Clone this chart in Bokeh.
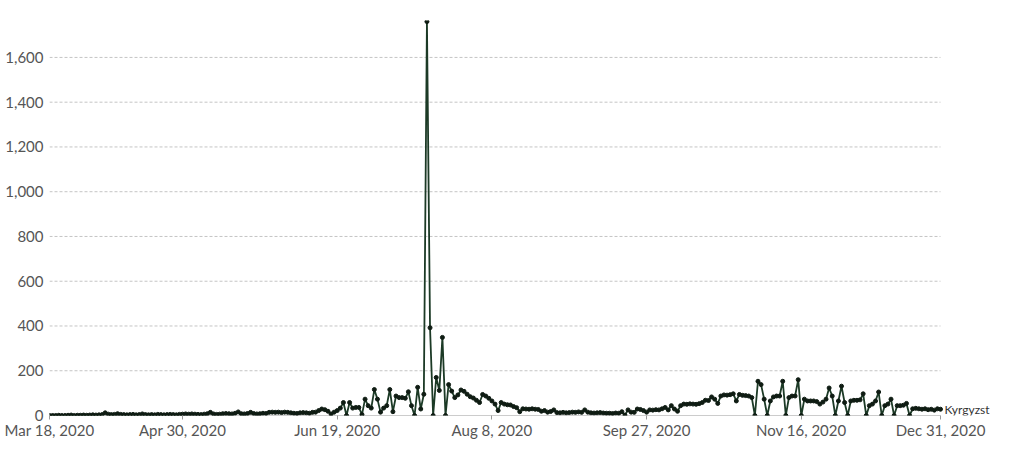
import pandas as pd
from bokeh.plotting import figure
from bokeh.models import ColumnDataSource, FixedTicker, NumeralTickFormatter, DatetimeTickFormatter, Label
from bokeh.embed import file_html
from bokeh.resources import INLINE

# ---- data (daily values) ----
start_date = "2020-03-18"
country_label = "Kyrgyzst"   # the series label as visible in the reference

mar_values = [0, 0, 0, 1, 0, 0, 1, 2, 0, 1, 1, 2, 1, 2]
apr_values = [3, 2, 3, 4, 12, 6, 4, 5, 8, 5, 4, 3, 4, 5, 3, 4, 7, 4, 3, 4,
              3, 5, 4, 3, 4, 5, 4, 3, 5, 6]
may_values = [7, 6, 7, 6, 5, 4, 6, 8, 14, 7, 5, 6, 8, 9, 8, 7, 10, 16, 8, 7,
              9, 14, 9, 7, 8, 10, 9, 14, 15, 14, 15]
jun_values = [13, 15, 14, 12, 10, 9, 12, 13, 12, 10, 14, 15, 22, 29, 26, 19, 7, 15, 22, 33,
              58, 0, 58, 33, 36, 36, 4, 73, 44, 33]
jul_values = [116, 73, 15, 33, 44, 116, 17, 87, 80, 80, 77, 106, 44, 0, 126, 29, 95, 1760, 392, 0,
              170, 112, 349, 0, 138, 109, 80, 92, 114, 108, 95]
aug_values = [84, 78, 68, 58, 94, 87, 77, 65, 51, 22, 58, 51, 48, 47, 40, 35, 17, 30, 29, 28,
              30, 28, 27, 19, 22, 15, 18, 25, 13, 12, 14]
sep_values = [12, 13, 15, 14, 16, 14, 25, 15, 12, 11, 12, 13, 11, 10, 10, 9, 11, 10, 17, 2,
              25, 15, 14, 29, 27, 22, 15, 25, 24, 26]
oct_values = [25, 30, 36, 25, 44, 29, 19, 44, 51, 50, 52, 51, 50, 53, 58, 68, 67, 83, 73, 54,
              87, 92, 91, 93, 97, 65, 94, 90, 89, 87, 80]
nov_values = [0, 153, 138, 73, 0, 65, 83, 87, 87, 153, 0, 80, 87, 87, 160, 0, 73, 65, 65, 65,
              62, 51, 60, 73, 123, 87, 0, 65, 131, 58]
dec_values = [0, 65, 68, 68, 70, 97, 0, 44, 51, 65, 105, 0, 44, 51, 73, 0, 44, 44, 46, 54,
              0, 30, 32, 30, 28, 30, 26, 28, 24, 30, 28]

y_ticks = [0, 200, 400, 600, 800, 1000, 1200, 1400, 1600]
x_tick_dates = ["2020-03-18", "2020-04-30", "2020-06-19", "2020-08-08",
                "2020-09-27", "2020-11-16", "2020-12-31"]

# ---- build table ----
values = (mar_values + apr_values + may_values + jun_values + jul_values +
          aug_values + sep_values + oct_values + nov_values + dec_values)
dates = pd.date_range(start_date, periods=len(values), freq="D")
source = ColumnDataSource(data=dict(date=dates, value=values))

LINE = "#1c3a26"
DOT = "#0f1c13"
TEXT = "#555555"
FONT = "Lato"

W, H = 993, 441
LEFT, BOTTOM, TOP = 49, 25, 20
DATA_RIGHT = 940                       # pixel where the series ends
span_days = (dates[-1] - dates[0]).days
pad_days = span_days * (W - DATA_RIGHT) / (DATA_RIGHT - LEFT)
x_end = dates[-1] + pd.Timedelta(days=pad_days)

p = figure(width=W, height=H, x_axis_type="datetime",
           x_range=(dates[0], x_end), y_range=(0, 1765),
           output_backend="svg", toolbar_location=None,
           min_border_left=LEFT, min_border_right=0, min_border_top=TOP,
           min_border_bottom=BOTTOM)
p.outline_line_color = None
p.background_fill_color = "white"
p.border_fill_color = "white"
p.xgrid.visible = False
p.ygrid.visible = False

# dashed horizontal gridlines, ending where the series ends
grid_vals = y_ticks[1:]
p.segment(x0=[dates[0]] * len(grid_vals), x1=[dates[-1]] * len(grid_vals),
          y0=grid_vals, y1=grid_vals, line_color="#c4c4c4", line_width=1,
          line_dash="3 2")
# baseline (x axis line)
p.segment(x0=[dates[0]], x1=[dates[-1]], y0=[0], y1=[0],
          line_color="#9a9a9a", line_width=1)

p.line(x="date", y="value", source=source, line_color=LINE, line_width=1.8)
p.scatter(x="date", y="value", source=source, size=4.0, fill_color=DOT,
          line_color=DOT)

# y axis
p.yaxis.ticker = FixedTicker(ticks=y_ticks)
p.yaxis.formatter = NumeralTickFormatter(format="0,0")
p.yaxis.axis_line_color = None
p.yaxis.major_tick_line_color = None
p.yaxis.major_tick_out = 0
p.yaxis.major_tick_in = 0
p.yaxis.minor_tick_line_color = None
p.yaxis.minor_tick_out = 0
p.yaxis.major_label_standoff = 6
p.yaxis.major_label_text_font = FONT
p.yaxis.major_label_text_font_size = "15px"
p.yaxis.major_label_text_color = TEXT

# x axis
tick_ms = [pd.Timestamp(d).value // 10**6 for d in x_tick_dates]
p.xaxis.ticker = FixedTicker(ticks=tick_ms)
fmt = "%b %-d, %Y"
p.xaxis.formatter = DatetimeTickFormatter(
    milliseconds=fmt, seconds=fmt, minsec=fmt, minutes=fmt, hourmin=fmt,
    hours=fmt, days=fmt, months=fmt, years=fmt)
p.xaxis.axis_line_color = None
p.xaxis.major_tick_line_color = "#9a9a9a"
p.xaxis.major_tick_in = 0
p.xaxis.major_tick_out = 4
p.xaxis.minor_tick_line_color = None
p.xaxis.minor_tick_out = 0
p.xaxis.major_label_standoff = 1
p.xaxis.major_label_text_font = FONT
p.xaxis.major_label_text_font_size = "15px"
p.xaxis.major_label_text_color = TEXT

# series label at the line end
p.add_layout(Label(x=dates[-1], y=values[-1], text=country_label, x_offset=4,
                   text_baseline="middle", text_font=FONT, text_font_size="12px",
                   text_color="#333333"))

open("out.html", "w").write(file_html(p, INLINE))
